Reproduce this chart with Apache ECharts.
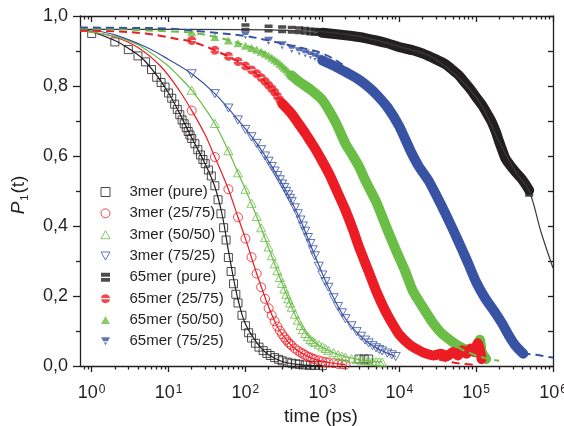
<!DOCTYPE html>
<html><head><meta charset="utf-8">
<script src="https://cdn.jsdelivr.net/npm/echarts@6/dist/echarts.min.js"></script>
<style>html,body{margin:0;padding:0;background:#fff}#c{width:564px;height:426px}</style>
</head><body><div id="c"></div>
<script>
// ---------- axes / ticks ----------
const X_MIN = 0.705, X_MAX = 1e6;
const X_MAJOR = [1, 10, 100, 1e3, 1e4, 1e5, 1e6];
const X_MINOR = [];
for (let d = -1; d < 6; d++) for (let k = 2; k <= 9; k++) { const v = k * Math.pow(10, d); if (v > X_MIN && v < X_MAX) X_MINOR.push(v); }

// ---------- 3mer (open symbols) ----------
const T_3PURE = [1,2,3,4,5,6,7,8,9,10,11,12,13,14,15,16,17,18,19,20,22,24,26,28,30,33,36,40,44,48,52,56,60,65,70,75,80,90,100,110,120,135,150,170,190,210,240,270,300,350,400,450,500,600,700,800,1000,3000,3500,4000];
const P_3PURE = [.950,.926,.904,.886,.869,.847,.825,.81,.797,.78,.765,.748,.733,.718,.703,.692,.681,.67,.66,.65,.635,.618,.603,.59,.578,.56,.543,.515,.475,.435,.395,.36,.31,.27,.235,.205,.18,.145,.115,.095,.08,.065,.054,.044,.036,.03,.024,.019,.015,.011,.008,.006,.005,.003,.002,.002,.001,.02,.02,.02];

const T_3R = [20,40,60,80,100,120,140,160,180,200,220,240,260,280,300,320,340,360,380,400,440,480,520,560,600,650,700,750,800,900,1000,1100,1200,1400,1600,1800,2000];
const P_3R = [.730,.597,.505,.425,.364,.311,.264,.225,.192,.165,.145,.128,.113,.101,.091,.082,.075,.068,.063,.058,.05,.044,.039,.035,.031,.027,.024,.021,.019,.016,.013,.011,.01,.008,.006,.005,.004];

const T_3G = [20,40,60,80,100,120,140,160,180,200,220,240,260,280,300,320,340,360,380,400,440,480,520,560,600,650,700,750,800,900,1000,1100,1200,1400,1600,1800,2000,2400,2800,3200,3600,4000,4500,5000,5500,6000];
const P_3G = [.788,.693,.615,.552,.505,.465,.427,.395,.367,.34,.315,.292,.272,.253,.236,.22,.205,.192,.18,.168,.148,.131,.116,.104,.093,.084,.076,.071,.067,.061,.055,.05,.045,.038,.032,.028,.025,.021,.019,.017,.016,.015,.014,.013,.012,.011];

const T_3B = [20,40,60,80,100,120,140,160,180,200,220,240,260,280,300,320,340,360,380,400,440,480,520,560,600,650,700,750,800,900,1000,1100,1200,1400,1600,1800,2000,2400,2800,3200,3600,4000,4500,5000,5500,6000,7000,8000,9000];
const P_3B = [.835,.778,.737,.703,.676,.655,.636,.618,.60,.585,.57,.557,.544,.532,.52,.51,.499,.489,.479,.47,.452,.435,.417,.40,.385,.367,.35,.332,.315,.285,.26,.241,.225,.195,.17,.152,.135,.115,.098,.085,.074,.066,.058,.052,.047,.043,.037,.032,.027];

// ---------- 3mer fits (solid) ----------
const FT_3PURE = [0.705,1,2,3,5,10,20,30,40,50,60,70,80,100,150,200,300,500,1000];
const FP_3PURE = [.962,.955,.93,.908,.87,.78,.652,.577,.512,.43,.33,.25,.19,.12,.058,.032,.013,.004,.001];
const FT_3R = [0.705,1,2,4,8,14,20,30,40,60,80,100,150,250,400,700,1200,2000];
const FP_3R = [.958,.954,.94,.91,.855,.785,.73,.66,.597,.505,.425,.364,.245,.12,.058,.024,.01,.004];
const FT_3G = [0.705,1,2,4,9,14,20,30,40,60,80,100,150,300,500,800,1500,3000,6000];
const FP_3G = [.958,.954,.942,.918,.865,.825,.788,.735,.693,.615,.552,.505,.41,.236,.123,.067,.035,.018,.011];
const FT_3B = [0.705,1,2,5,10,20,40,80,150,300,500,800,1200,2000,4000,9000];
const FP_3B = [.963,.96,.946,.912,.876,.835,.778,.703,.627,.52,.425,.315,.225,.135,.066,.027];

// ---------- 65mer (filled symbols: sparse part + dense band) ----------
const T_65PURE = [100,200,300,400,500,600,700,800,900,1000];
const P_65PURE = [.968,.964,.962,.961,.959,.958,.956,.955,.954,.952];
const BT_65PURE = [1000,2000,3000,5000,7000,10000,15000,20000,30000,40000,50000,60000,70000,85000,100000,120000,140000,160000,180000,200000,220000,240000,280000,330000,380000,430000,490000];
const BP_65PURE = [.952,.945,.94,.93,.922,.911,.902,.893,.876,.862,.845,.83,.812,.79,.768,.745,.72,.697,.67,.64,.615,.593,.572,.553,.538,.522,.502];
const ET_65PURE = [490000], EP_65PURE = [.495];

const T_65R = [20,40,60,80,100,120,140,160,180,200,220,240,260,280,300];
const P_65R = [.93,.902,.885,.87,.857,.846,.835,.824,.813,.802,.792,.782,.771,.76,.75];
const BT_65R = [300,400,500,600,700,800,1000,1250,1660,2000,2500,3000,4000,5000,6500,8200,10000,13500,18000,22000,28000,35000,42000,50000,58000,66000,75000,85000,95000,105000,112000,118000];
const BP_65R = [.75,.72,.69,.665,.642,.622,.585,.545,.485,.445,.39,.34,.27,.215,.16,.12,.09,.062,.045,.036,.03,.035,.028,.04,.03,.045,.035,.05,.04,.065,.045,.02];

const T_65G = [20,40,60,80,100,120,140,160,180,200,220,240,260,280,300,320,340,360,380,400];
const P_65G = [.954,.94,.93,.922,.915,.909,.904,.898,.892,.887,.881,.875,.87,.864,.858,.852,.847,.841,.835,.83];
const BT_65G = [400,500,700,1000,1500,2000,2500,3000,3700,5000,7000,9100,12000,15000,20000,27500,35000,50000,65000,80000,95000,105000,112000,118000,125000,135000];
const BP_65G = [.83,.812,.79,.76,.695,.635,.6,.57,.526,.47,.39,.33,.27,.215,.17,.123,.095,.068,.052,.045,.04,.06,.075,.04,.03,.02];

const T_65B = [100,200,300,400,500,600,700,800,900,1000];
const P_65B = [.945,.929,.916,.906,.899,.893,.888,.883,.878,.873];
const BT_65B = [1000,1500,2000,3000,4000,5000,7000,10000,14000,18000,24000,30000,40000,50000,65000,80000,100000,130000,180000,220000,270000,320000,370000,410000];
const BP_65B = [.873,.855,.84,.818,.797,.777,.74,.685,.615,.57,.53,.49,.435,.39,.335,.29,.24,.195,.15,.12,.085,.06,.045,.035];
const ET_65B = [380000], EP_65B = [.035];

// ---------- 65mer fits ----------
const FT_65PURE = [0.705,100,1000,3000,10000,30000,100000,200000,330000,490000,700000,1000000];
const FP_65PURE = [.962,.961,.955,.942,.913,.876,.768,.64,.553,.50,.382,.28];
const FT_65R = [0.705,2,5,8,14,20,40,100,200,400,1000,2000,5000,10000,20000,50000,100000];
const FP_65R = [.958,.956,.95,.943,.933,.927,.902,.857,.802,.72,.585,.445,.215,.09,.035,.01,.003];
const FT_65G = [0.705,3,10,20,50,100,200,400,1000,2000,5000,10000,20000,50000,100000,200000];
const FP_65G = [.964,.961,.956,.952,.936,.916,.889,.832,.76,.635,.47,.31,.17,.065,.03,.015];
const FT_65B = [0.705,3,10,30,100,200,400,1000,2000,5000,10000,20000,50000,100000,200000,400000,600000,1000000];
const FP_65B = [.967,.966,.964,.955,.943,.93,.915,.893,.855,.78,.69,.56,.39,.24,.13,.04,.032,.024];

const NAMES = ['3mer (pure)','3mer (25/75)','3mer (50/50)','3mer (75/25)','65mer (pure)','65mer (25/75)','65mer (50/50)','65mer (75/25)'];

// ---------- styling ----------
const BLACK = '#231f20', RED = '#ec1c24', GREEN = '#6abd45', BLUE = '#3953a4';
const FONT = 'Liberation Sans, Arial, sans-serif';
const CLEAR = 'rgba(255,255,255,0)';
const SYM_SQ = 'path://M0 0H10V10H0Z';
const SYM_UP = 'path://M5 0L10 9H0Z';
const SYM_DOWN = 'path://M0 0H10L5 9Z';
const SYM_HALF_SQ = 'path://M0 0H10V4.3H0Z M0 5.7H10V10H0Z';
const SYM_HALF_CIRC = 'path://M0.04 4.4A5 5 0 0 1 9.96 4.4Z M0.04 5.6A5 5 0 0 0 9.96 5.6Z';
const SYM_HALF_DOWN = 'path://M0 0H10L7.61 4.3H2.39Z M3.17 5.7H6.83L5 9Z';

const pairs = (t, p) => t.map((v, i) => [v, p[i]]);

function openScatter(name, t, p, color, symbol, size) {
  return { name, type: 'scatter', data: pairs(t, p), symbol, symbolSize: size, symbolKeepAspect: true, z: 2, silent: true,
    itemStyle: { color: CLEAR, borderColor: color, borderWidth: 1 } };
}
function filledScatter(name, t, p, color, symbol, size) {
  return { name, type: 'scatter', data: pairs(t, p), symbol, symbolSize: size, symbolKeepAspect: true, z: 2, silent: true,
    itemStyle: { color: color, borderWidth: 0 } };
}
function band(t, p, color) {
  return { name: '_band', type: 'line', data: pairs(t, p), showSymbol: false, symbol: 'none', z: 2, silent: true,
    smooth: 0.2, lineStyle: { color, width: 10, cap: 'round', join: 'round' } };
}
function fit(t, p, color, dashed, width) {
  return { name: '_fit', type: 'line', data: pairs(t, p), showSymbol: false, symbol: 'none', z: 4, silent: true,
    smooth: 0.35,
    lineStyle: { color, width: width || 1.2, type: dashed ? [8, 5] : 'solid' } };
}

const AX = { color: BLACK, width: 1.3 };
const xBase = { type: 'log', logBase: 10, min: X_MIN, max: X_MAX, gridIndex: 0, splitLine: { show: false } };

const option = {
  animation: false,
  backgroundColor: '#fff',
  textStyle: { fontFamily: FONT },
  grid: { left: 80, right: 11, top: 16, bottom: 60, containLabel: false, outerBoundsMode: 'none' },
  legend: {
    data: NAMES, orient: 'vertical', left: 100.5, top: 184.5, padding: 0,
    itemWidth: 9, itemHeight: 9, itemGap: 6.33, selectedMode: false,
    itemStyle: { borderWidth: 1 },
    formatter: name => '{t|' + name + '}',
    textStyle: { fontSize: 15, color: BLACK, fontFamily: FONT, lineHeight: 15,
      rich: { t: { fontSize: 15, color: BLACK, fontFamily: FONT, lineHeight: 15, padding: [0, 0, 0, 14.5] } } }
  },
  xAxis: [
    Object.assign({}, xBase, {
      position: 'bottom',
      axisLine: { show: true, lineStyle: AX },
      axisTick: { show: true, inside: false, length: 6, customValues: X_MAJOR, lineStyle: AX },
      axisLabel: { show: true, customValues: X_MAJOR, margin: 18, color: BLACK, fontSize: 18, fontFamily: FONT,
        formatter: v => '10{s|' + Math.round(Math.log10(v)) + '}',
        rich: { s: { fontSize: 12, fontFamily: FONT, color: BLACK, verticalAlign: 'top', lineHeight: 12, padding: [0, 0, 0, 1] } } },
      name: 'time (ps)', nameLocation: 'middle', nameGap: 39,
      nameTextStyle: { fontSize: 19, color: BLACK, fontFamily: FONT, padding: [0, 0, 0, 9] }
    }),
    Object.assign({}, xBase, {
      position: 'bottom', axisLine: { show: false },
      axisTick: { show: true, inside: false, length: 3.5, customValues: X_MINOR, lineStyle: AX },
      axisLabel: { show: false }
    }),
    Object.assign({}, xBase, {
      position: 'top', axisLine: { show: true, lineStyle: AX },
      axisTick: { show: true, inside: true, length: 6, customValues: X_MAJOR, lineStyle: AX },
      axisLabel: { show: false }
    }),
    Object.assign({}, xBase, {
      position: 'top', axisLine: { show: false },
      axisTick: { show: true, inside: true, length: 3.5, customValues: X_MINOR, lineStyle: AX },
      axisLabel: { show: false }
    })
  ],
  yAxis: [
    { type: 'value', min: 0, max: 1, interval: 0.2, position: 'left', gridIndex: 0,
      axisLine: { show: true, lineStyle: AX },
      axisTick: { show: true, inside: false, length: 7, lineStyle: AX },
      minorTick: { show: true, splitNumber: 2, length: 4, lineStyle: AX },
      splitLine: { show: false }, minorSplitLine: { show: false },
      axisLabel: { margin: 12, color: BLACK, fontSize: 18, fontFamily: FONT, formatter: v => v.toFixed(1).replace('.', ',') },
      name: '{i|P}{s|1}(t)', nameLocation: 'middle', nameRotate: 90, nameGap: 50,
      nameTextStyle: { fontSize: 19, color: BLACK, fontFamily: FONT, padding: [0, 8, 0, 0],
        rich: { i: { fontStyle: 'italic', fontSize: 19, fontFamily: FONT, color: BLACK, lineHeight: 22 },
                s: { fontSize: 11, fontFamily: FONT, color: BLACK, verticalAlign: 'bottom', lineHeight: 22, padding: [10, 1, 0, 1] } } }
    },
    { type: 'value', min: 0, max: 1, interval: 0.1, position: 'right', gridIndex: 0,
      axisLine: { show: true, lineStyle: AX },
      axisTick: { show: true, inside: true, length: 5, lineStyle: AX },
      splitLine: { show: false }, axisLabel: { show: false } }
  ],
  series: [
    band(BT_65PURE, BP_65PURE, BLACK),
    band(BT_65B, BP_65B, BLUE),
    band(BT_65G, BP_65G, GREEN),
    band(BT_65R, BP_65R, RED),
    openScatter(NAMES[0], T_3PURE, P_3PURE, BLACK, SYM_SQ, 8),
    openScatter(NAMES[1], T_3R, P_3R, RED, 'circle', 9),
    openScatter(NAMES[2], T_3G, P_3G, GREEN, SYM_UP, 9),
    openScatter(NAMES[3], T_3B, P_3B, BLUE, SYM_DOWN, 9),
    filledScatter(NAMES[4], T_65PURE, P_65PURE, BLACK, SYM_HALF_SQ, 8),
    filledScatter(NAMES[5], T_65R, P_65R, RED, SYM_HALF_CIRC, 9),
    filledScatter(NAMES[6], T_65G, P_65G, GREEN, SYM_UP, 9),
    filledScatter(NAMES[7], T_65B, P_65B, BLUE, SYM_HALF_DOWN, 9),
    filledScatter('_end', ET_65PURE, EP_65PURE, BLACK, SYM_HALF_SQ, 8),
    filledScatter('_end', ET_65B, EP_65B, BLUE, SYM_HALF_DOWN, 9),
    fit(FT_3PURE, FP_3PURE, BLACK, false),
    fit(FT_3R, FP_3R, RED, false),
    fit(FT_3G, FP_3G, GREEN, false),
    fit(FT_3B, FP_3B, BLUE, false),
    fit(FT_65PURE, FP_65PURE, '#3a3a3a', false, 1.2),
    fit(FT_65R, FP_65R, RED, true, 2),
    fit(FT_65G, FP_65G, GREEN, true, 2),
    fit(FT_65B, FP_65B, BLUE, true, 2)
  ]
};
const chart = echarts.init(document.getElementById('c'), null, { renderer: 'canvas' });
chart.setOption(option);
</script>
</body></html>
